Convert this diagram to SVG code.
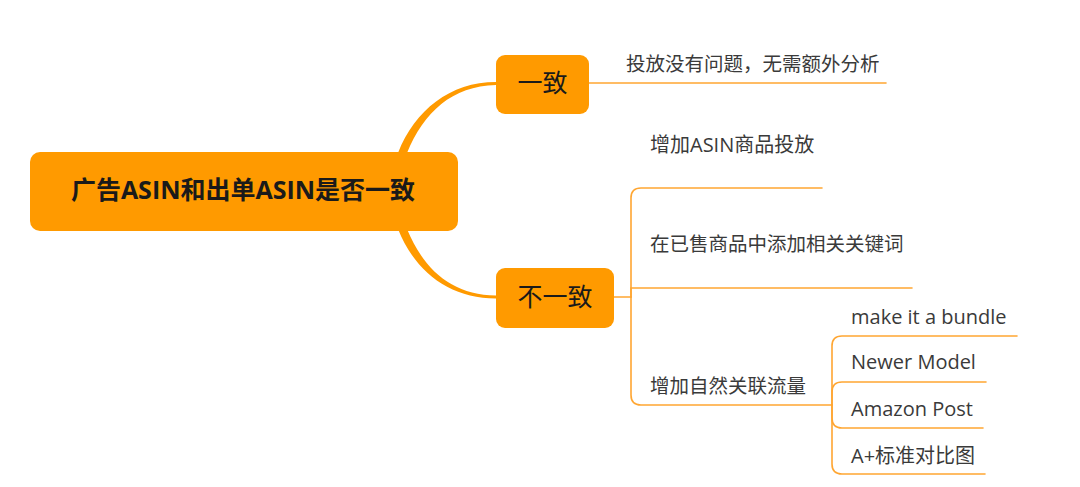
<svg xmlns="http://www.w3.org/2000/svg" width="1080" height="487" viewBox="0 0 1080 487">
<style>
.box{fill:#FF9A00;}
.thick{fill:#FF9A00;}
.line{fill:none;stroke:#FFA632;stroke-width:1.6;stroke-linecap:round;}
.t{font-family:'Open Sans','Noto Sans CJK SC',sans-serif;font-size:20px;fill:#3a3a3a;}
.tc{font-family:'Noto Sans CJK SC','Open Sans',sans-serif;font-size:19.5px;fill:#3a3a3a;}
.bt{font-family:'Open Sans','Noto Sans CJK SC',sans-serif;font-size:25px;fill:#1a1a1a;text-anchor:middle;}
</style>
<rect width="1080" height="487" fill="#ffffff"/>
<g id="connectors">
  <path class="thick" d="M398,153 C415,110 450,82 496,82 L496,85 C452,86 424,112 407,153 Z"/>
  <path class="thick" d="M398,229 C415,272 450,298.5 496,298.5 L496,295.5 C452,295 424,270 407,229 Z"/>
  <path class="line" d="M589,83 H886"/>
  <path class="line" d="M614,297 H631"/>
  <path class="line" d="M631,297 V198 Q631,188 641,188 H822"/>
  <path class="line" d="M631,297 V288 H912"/>
  <path class="line" d="M631,297 V395 Q631,405 641,405 H832"/>
  <path class="line" d="M832,405 V346 Q832,336 842,336 H1017"/>
  <path class="line" d="M832,405 V392 Q832,382 842,382 H986"/>
  <path class="line" d="M832,405 V418 Q832,428 842,428 H983"/>
  <path class="line" d="M832,405 V464 Q832,474 842,474 H985"/>
</g>
<g id="root">
  <rect class="box" x="30" y="152" width="428" height="79" rx="10"/>
  <text class="bt" x="243" y="199" font-weight="bold">广告ASIN和出单ASIN是否一致</text>
</g>
<g id="n-yizhi">
  <rect class="box" x="496" y="55" width="93" height="59" rx="9"/>
  <text class="bt" x="542.5" y="92">一致</text>
</g>
<g id="n-buyizhi">
  <rect class="box" x="496" y="268" width="118" height="60" rx="9"/>
  <text class="bt" x="555" y="306">不一致</text>
</g>
<g id="n-no-problem">
  <text class="tc" x="626" y="71">投放没有问题，无需额外分析</text>
</g>
<g id="n-asin-ads">
  <text class="t" x="650" y="152">增加ASIN商品投放</text>
</g>
<g id="n-keywords">
  <text class="tc" x="650" y="251">在已售商品中添加相关关键词</text>
</g>
<g id="n-natural">
  <text class="tc" x="650" y="393">增加自然关联流量</text>
</g>
<g id="n-bundle">
  <text class="t" x="851" y="324">make it a bundle</text>
</g>
<g id="n-newer">
  <text class="t" x="851" y="369">Newer Model</text>
</g>
<g id="n-post">
  <text class="t" x="851" y="416">Amazon Post</text>
</g>
<g id="n-aplus">
  <text class="t" x="851" y="463">A+标准对比图</text>
</g>
</svg>
